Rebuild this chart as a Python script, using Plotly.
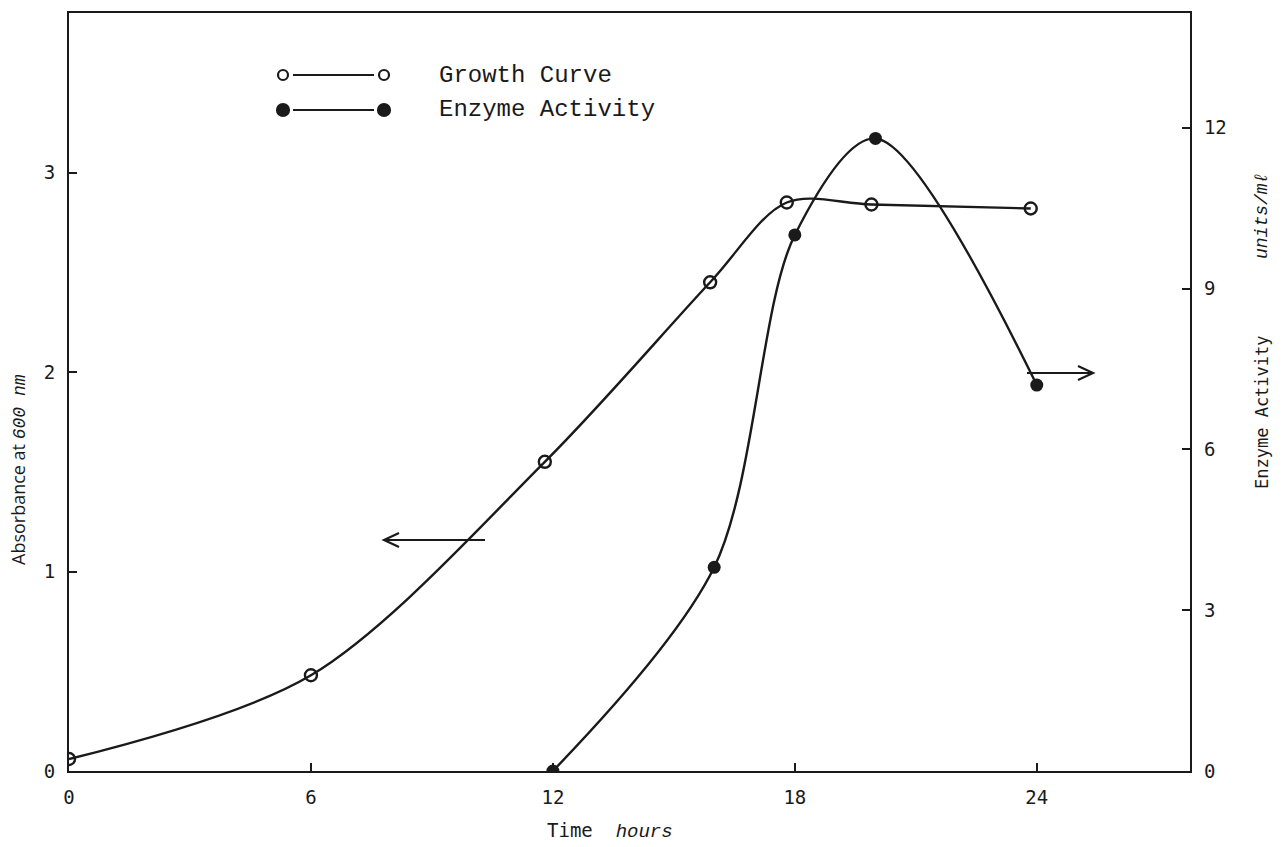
import plotly.graph_objects as go

# Sampling times (hours)
growth_hours = [0, 6, 11.8, 15.9, 17.8, 19.9, 23.85]
enzyme_hours = [12, 16, 18, 20, 24]

# Absorbance at 600 nm (left axis)
growth_abs = [0.06, 0.48, 1.55, 2.45, 2.85, 2.84, 2.82]
# Enzyme activity, units/ml (right axis)
enzyme_units = [0.0, 3.8, 10.0, 11.8, 7.2]

x_ticks = [0, 6, 12, 18, 24]
left_ticks = [0, 1, 2, 3]
right_ticks = [0, 3, 6, 9, 12]

INK = "#1a1a1a"
W, H = 1286, 847
L, R, T, B = 69, 96, 13, 76
PW, PH = W - L - R, H - T - B


def px(x):
    return (x - L) / PW


def py(y):
    return (H - B - y) / PH


fig = go.Figure()

fig.add_trace(go.Scatter(
    x=growth_hours, y=growth_abs, mode="lines+markers", name="Growth Curve",
    line=dict(color=INK, width=2.4, shape="spline", smoothing=0.9),
    marker=dict(symbol="circle-open", size=12, color=INK, line=dict(width=2.4)),
    showlegend=False,
))
fig.add_trace(go.Scatter(
    x=enzyme_hours, y=enzyme_units, mode="lines+markers", name="Enzyme Activity",
    yaxis="y2",
    line=dict(color=INK, width=2.4, shape="spline", smoothing=0.9),
    marker=dict(symbol="circle", size=13, color=INK),
    showlegend=False,
))

shapes = []
# legend keys: marker — line — marker
for yy, filled in [(75, False), (110, True)]:
    shapes.append(dict(type="line", xref="paper", yref="paper",
                       x0=px(293), x1=px(374), y0=py(yy), y1=py(yy),
                       line=dict(color=INK, width=2.2)))
    for cx in (283, 384):
        r = 6 if filled else 5
        shapes.append(dict(type="circle", xref="paper", yref="paper",
                           x0=px(cx - r), x1=px(cx + r), y0=py(yy - r), y1=py(yy + r),
                           fillcolor=INK if filled else "white",
                           line=dict(color=INK, width=2.2)))


def arrow(x0, x1, y, head):
    d = 1 if x1 > x0 else -1
    shapes.append(dict(type="line", xref="paper", yref="paper",
                       x0=px(x0), x1=px(x1), y0=py(y), y1=py(y),
                       line=dict(color=INK, width=2.2)))
    shapes.append(dict(type="path", xref="paper", yref="paper",
                       path=f"M {px(x1 - d * head)},{py(y - 7)} L {px(x1)},{py(y)} L {px(x1 - d * head)},{py(y + 7)}",
                       line=dict(color=INK, width=2.2)))


arrow(485, 384, 540, 15)
arrow(1027, 1093, 373, 15)

mono = "DejaVu Sans Mono"
ital = "<i><span style='font-family:Liberation Mono'>{}</span></i>"
annotations = [
    dict(text="Growth Curve", x=px(437), y=py(75), xanchor="left", yanchor="middle",
         font=dict(family="Liberation Mono", size=24, color=INK)),
    dict(text="Enzyme Activity", x=px(437), y=py(110), xanchor="left", yanchor="middle",
         font=dict(family="Liberation Mono", size=24, color=INK)),
    dict(text="Time  " + ital.format("hours"),
         x=px(545), y=py(831), xanchor="left", yanchor="middle",
         font=dict(family=mono, size=19, color=INK)),
    dict(text="Absorbance at " + ital.format("600 nm"),
         x=px(18), y=py(470), xanchor="center", yanchor="middle", textangle=-90,
         font=dict(family="Open Sans", size=18, color=INK)),
    dict(text="Enzyme Activity", x=px(1262), y=py(412), xanchor="center", yanchor="middle",
         textangle=-90, font=dict(family=mono, size=17, color=INK)),
    dict(text=ital.format("units/mℓ"),
         x=px(1262), y=py(216), xanchor="center", yanchor="middle",
         textangle=-90, font=dict(family=mono, size=18, color=INK)),
]
for a in annotations:
    a.update(xref="paper", yref="paper", showarrow=False)

axis_common = dict(
    showgrid=False, zeroline=False, showline=True, linecolor=INK, linewidth=2.2,
    ticks="inside", ticklen=8, tickwidth=2, tickcolor=INK,
    tickfont=dict(family=mono, size=19, color=INK),
)

fig.update_layout(
    width=W, height=H,
    margin=dict(l=L, r=R, t=T, b=B),
    paper_bgcolor="white", plot_bgcolor="white",
    xaxis=dict(range=[0, 27.8], tickvals=x_ticks, mirror=True, ticklabelstandoff=8,
               **axis_common),
    yaxis=dict(range=[0, 3.8], tickvals=left_ticks, ticklabelstandoff=8, **axis_common),
    yaxis2=dict(range=[0, 14.14], tickvals=right_ticks, overlaying="y", side="right",
                ticklabelstandoff=8, **axis_common),
    shapes=shapes,
    annotations=annotations,
)

fig.write_html("out.html")
